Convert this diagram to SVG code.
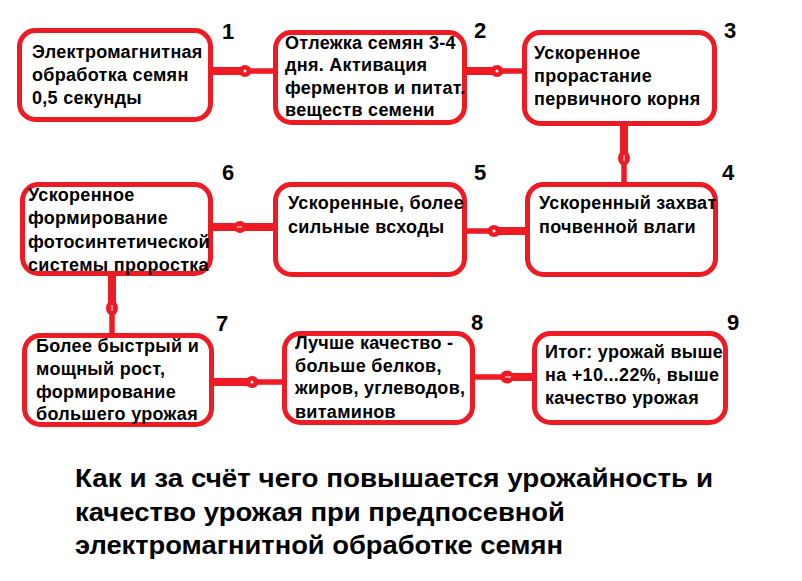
<svg xmlns="http://www.w3.org/2000/svg" width="802" height="581" viewBox="0 0 802 581">
<style>
.box{fill:#fff;stroke:#ed1c24;stroke-width:5}
.t{font-family:"Liberation Sans",Arial,sans-serif;font-weight:bold;font-size:18px;letter-spacing:0.3px;fill:#000}
.n{font-family:"Liberation Sans",Arial,sans-serif;font-weight:bold;font-size:22px;fill:#000;text-anchor:middle}
.title{font-family:"Liberation Sans Narrow","Liberation Sans",Arial,sans-serif;font-stretch:condensed;font-weight:bold;font-size:25px;fill:#000}
.thick{stroke:#ed1c24;stroke-width:8;fill:none}
.thin{stroke:#ed1c24;stroke-width:5.5;fill:none}
.blob{fill:#ed1c24}
.dot{fill:#fff}
</style>
<rect width="802" height="581" fill="#fff"/>
<g id="connectors">
  <line class="thick" x1="213" y1="71" x2="242" y2="71"/>
  <line class="thin" x1="248" y1="71" x2="274" y2="71"/>
  <ellipse class="blob" cx="245" cy="71" rx="6.5" ry="6"/>
  <circle class="dot" cx="245" cy="71" r="1.5"/>
  <line class="thick" x1="467" y1="71" x2="494" y2="71"/>
  <line class="thin" x1="500" y1="71" x2="523" y2="71"/>
  <ellipse class="blob" cx="497" cy="71" rx="6.5" ry="6"/>
  <circle class="dot" cx="497" cy="71" r="1.5"/>
  <line class="thick" x1="624" y1="126" x2="624" y2="156"/>
  <line class="thin" x1="624" y1="160" x2="624" y2="183"/>
  <ellipse class="blob" cx="624" cy="158" rx="6" ry="7.5"/>
  <rect class="dot" x="623.5" y="155" width="1" height="6"/>
  <line class="thick" x1="526" y1="231" x2="497" y2="231"/>
  <line class="thin" x1="491" y1="231" x2="466" y2="231"/>
  <ellipse class="blob" cx="494" cy="231" rx="6.5" ry="6"/>
  <circle class="dot" cx="494" cy="231" r="1.5"/>
  <line class="thick" x1="274" y1="227" x2="243" y2="227"/>
  <line class="thick" x1="237" y1="227" x2="212" y2="227"/>
  <ellipse class="blob" cx="240" cy="227" rx="6.5" ry="6"/>
  <rect class="dot" x="237" y="226.5" width="5" height="1"/>
  <line class="thick" x1="112" y1="276" x2="112" y2="305"/>
  <line class="thin" x1="112" y1="311" x2="112" y2="334"/>
  <ellipse class="blob" cx="112" cy="308" rx="6" ry="7.5"/>
  <rect class="dot" x="111.5" y="305" width="1" height="6"/>
  <line class="thick" x1="213" y1="382" x2="249" y2="382"/>
  <line class="thin" x1="255" y1="382" x2="283" y2="382"/>
  <ellipse class="blob" cx="252" cy="382" rx="6.5" ry="6"/>
  <circle class="dot" cx="252" cy="382" r="1.5"/>
  <line class="thin" x1="474" y1="377" x2="503" y2="377"/>
  <line class="thick" x1="510" y1="377" x2="533" y2="377"/>
  <ellipse class="blob" cx="507" cy="377" rx="7" ry="6.5"/>
  <rect class="dot" x="505" y="376.5" width="6" height="1"/>
</g>
<g id="node1">
  <rect class="box" x="19.5" y="30.5" width="191" height="89" rx="16"/>
  <text class="t" x="32" y="58">Электромагнитная</text>
  <text class="t" x="32" y="81">обработка семян</text>
  <text class="t" x="32" y="104">0,5 секунды</text>
  <text class="n" x="228" y="39">1</text>
</g>
<g id="node2">
  <rect class="box" x="275.5" y="32.5" width="189" height="90" rx="16"/>
  <text class="t" x="285" y="49">Отлежка семян 3-4</text>
  <text class="t" x="285" y="71">дня. Активация</text>
  <text class="t" x="285" y="94">ферментов и питат.</text>
  <text class="t" x="285" y="116">веществ семени</text>
  <text class="n" x="480" y="38">2</text>
</g>
<g id="node3">
  <rect class="box" x="524.5" y="32.5" width="190" height="91" rx="16"/>
  <text class="t" x="534" y="59">Ускоренное</text>
  <text class="t" x="534" y="82">прорастание</text>
  <text class="t" x="534" y="105">первичного корня</text>
  <text class="n" x="730" y="38">3</text>
</g>
<g id="node4">
  <rect class="box" x="527.5" y="184.5" width="188" height="90" rx="16"/>
  <text class="t" x="539" y="209">Ускоренный захват</text>
  <text class="t" x="539" y="233">почвенной влаги</text>
  <text class="n" x="728" y="180">4</text>
</g>
<g id="node5">
  <rect class="box" x="275.5" y="184.5" width="189" height="90" rx="16"/>
  <text class="t" x="288" y="209">Ускоренные, более</text>
  <text class="t" x="288" y="233">сильные всходы</text>
  <text class="n" x="480" y="180">5</text>
</g>
<g id="node6">
  <rect class="box" x="22.5" y="184.5" width="188" height="89" rx="16"/>
  <text class="t" x="28" y="201">Ускоренное</text>
  <text class="t" x="28" y="224">формирование</text>
  <text class="t" x="28" y="248">фотосинтетической</text>
  <text class="t" x="28" y="271">системы проростка</text>
  <text class="n" x="228" y="180">6</text>
</g>
<g id="node7">
  <rect class="box" x="24.5" y="335.5" width="187" height="89" rx="16"/>
  <text class="t" x="36" y="352">Более быстрый и</text>
  <text class="t" x="36" y="375">мощный рост,</text>
  <text class="t" x="36" y="398">формирование</text>
  <text class="t" x="36" y="420">большего урожая</text>
  <text class="n" x="222" y="331">7</text>
</g>
<g id="node8">
  <rect class="box" x="284.5" y="333.5" width="188" height="89" rx="16"/>
  <text class="t" x="295" y="349">Лучше качество -</text>
  <text class="t" x="295" y="372">больше белков,</text>
  <text class="t" x="295" y="394">жиров, углеводов,</text>
  <text class="t" x="295" y="418">витаминов</text>
  <text class="n" x="477" y="330">8</text>
</g>
<g id="node9">
  <rect class="box" x="534.5" y="333.5" width="191" height="89" rx="16"/>
  <text class="t" x="545" y="358">Итог: урожай выше</text>
  <text class="t" x="545" y="381">на +10...22%, выше</text>
  <text class="t" x="545" y="404">качество урожая</text>
  <text class="n" x="733" y="330">9</text>
</g>
<g id="title">
  <text class="title" x="75" y="487" textLength="638" lengthAdjust="spacingAndGlyphs">Как и за счёт чего повышается урожайность и</text>
  <text class="title" x="75" y="521" textLength="490" lengthAdjust="spacingAndGlyphs">качество урожая при предпосевной</text>
  <text class="title" x="75" y="554" textLength="488" lengthAdjust="spacingAndGlyphs">электромагнитной обработке семян</text>
</g>
</svg>
